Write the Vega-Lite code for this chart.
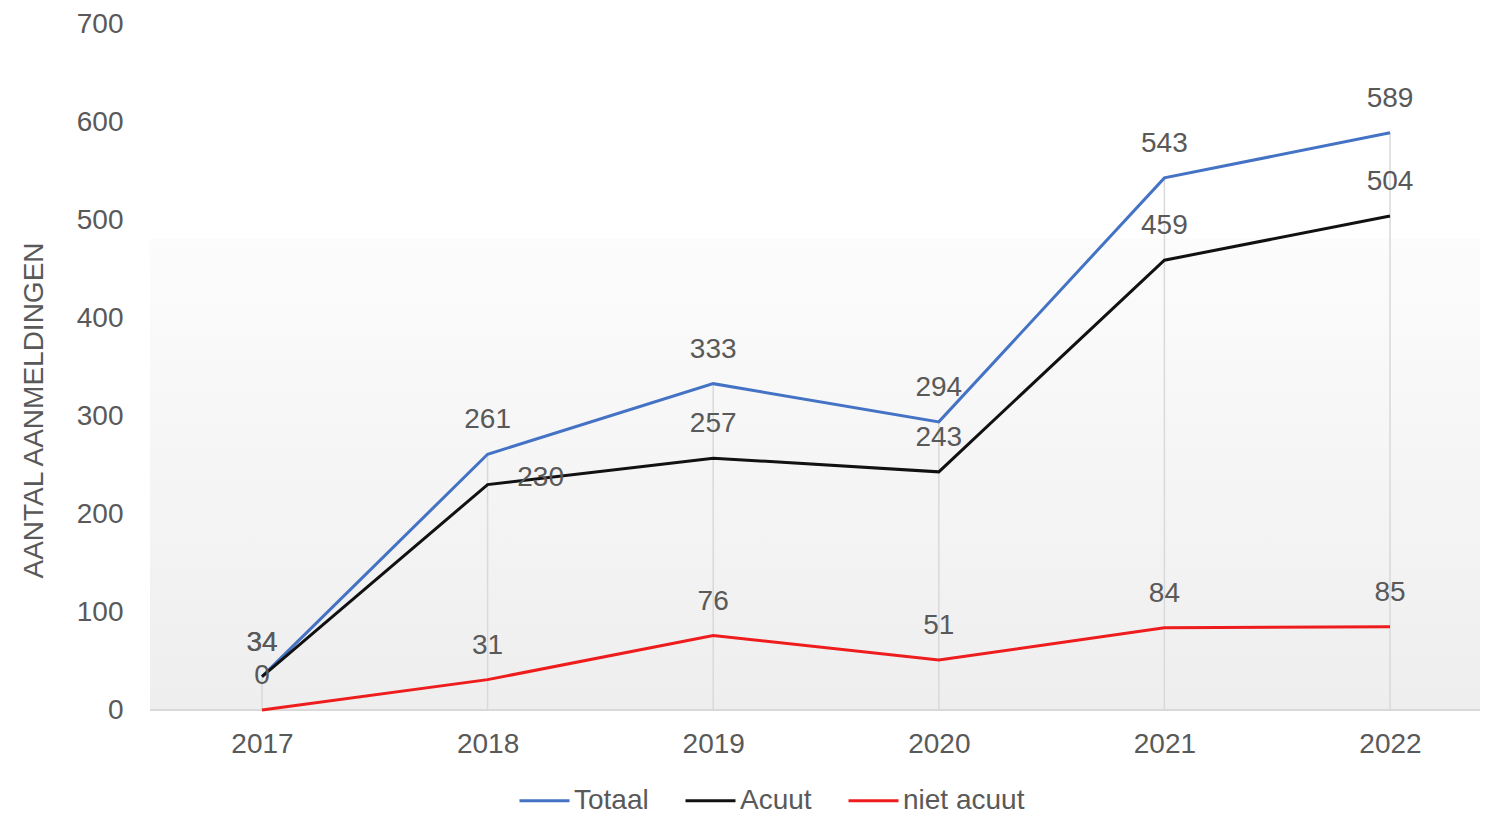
{
  "$schema": "https://vega.github.io/schema/vega-lite/v6.json",
  "width": 1330,
  "height": 686,
  "autosize": "none",
  "padding": {"left": 150, "top": 24, "right": 16, "bottom": 105},
  "background": "#ffffff",
  "config": {
    "font": "Liberation Sans",
    "view": {
      "stroke": null,
      "fill": {
        "gradient": "linear",
        "x1": 0, "y1": 0, "x2": 0, "y2": 1,
        "stops": [
          {"offset": 0, "color": "#ffffff"},
          {"offset": 0.311, "color": "#ffffff"},
          {"offset": 0.314, "color": "#fcfcfc"},
          {"offset": 1, "color": "#eeeeee"}
        ]
      }
    }
  },
  "data": {
    "values": [
      {"year": "2017", "series": "Totaal", "value": 34},
      {"year": "2018", "series": "Totaal", "value": 261},
      {"year": "2019", "series": "Totaal", "value": 333},
      {"year": "2020", "series": "Totaal", "value": 294},
      {"year": "2021", "series": "Totaal", "value": 543},
      {"year": "2022", "series": "Totaal", "value": 589},
      {"year": "2017", "series": "Acuut", "value": 34},
      {"year": "2018", "series": "Acuut", "value": 230},
      {"year": "2019", "series": "Acuut", "value": 257},
      {"year": "2020", "series": "Acuut", "value": 243},
      {"year": "2021", "series": "Acuut", "value": 459},
      {"year": "2022", "series": "Acuut", "value": 504},
      {"year": "2017", "series": "niet acuut", "value": 0},
      {"year": "2018", "series": "niet acuut", "value": 31},
      {"year": "2019", "series": "niet acuut", "value": 76},
      {"year": "2020", "series": "niet acuut", "value": 51},
      {"year": "2021", "series": "niet acuut", "value": 84},
      {"year": "2022", "series": "niet acuut", "value": 85}
    ]
  },
  "layer": [
    {
      "mark": {"type": "rule", "color": "#d9d9d9", "strokeWidth": 1.5},
      "encoding": {
        "y": {
          "datum": 0,
          "type": "quantitative",
          "scale": {"domain": [0, 700], "nice": false},
          "axis": {
            "title": "AANTAL AANMELDINGEN",
            "titleFontSize": 28,
            "titleFontWeight": "normal",
            "titleColor": "#595959",
            "titlePadding": 28,
            "titleY": 386,
            "values": [0, 100, 200, 300, 400, 500, 600, 700],
            "labelFontSize": 28,
            "labelColor": "#595959",
            "labelPadding": 27,
            "ticks": false,
            "domain": false,
            "grid": false
          }
        }
      }
    },
    {
      "transform": [{"filter": "datum.series === 'Totaal'"}],
      "mark": {"type": "rule", "color": "#d9d9d9", "strokeWidth": 1.5},
      "encoding": {
        "x": {
          "field": "year",
          "type": "ordinal",
          "scale": {"type": "point", "range": [112, 1240], "padding": 0},
          "axis": {
            "title": null,
            "labelAngle": 0,
            "labelFontSize": 28,
            "labelColor": "#595959",
            "labelPadding": 20,
            "ticks": false,
            "grid": false,
            "domain": false
          }
        },
        "y": {"field": "value", "type": "quantitative"},
        "y2": {"datum": 0}
      }
    },
    {
      "mark": {"type": "line", "strokeWidth": 3},
      "encoding": {
        "x": {"field": "year", "type": "ordinal"},
        "y": {"field": "value", "type": "quantitative"},
        "color": {
          "field": "series",
          "type": "nominal",
          "scale": {
            "domain": ["Totaal", "Acuut", "niet acuut"],
            "range": ["#4472c4", "#111111", "#ee1c1c"]
          },
          "legend": {
            "title": null,
            "orient": "none",
            "direction": "horizontal",
            "legendX": 368,
            "legendY": 750,
            "symbolType": "stroke",
            "symbolSize": 2500,
            "symbolStrokeWidth": 3,
            "labelFontSize": 28,
            "labelColor": "#595959",
            "labelOffset": 3,
            "columnPadding": 30,
            "padding": 0
          }
        }
      }
    },
    {
      "transform": [{"filter": "!(datum.series === 'Acuut' && datum.year === '2018')"}],
      "mark": {"type": "text", "fontSize": 28, "color": "#595959", "dy": -34, "baseline": "middle"},
      "encoding": {
        "x": {"field": "year", "type": "ordinal"},
        "y": {"field": "value", "type": "quantitative"},
        "text": {"field": "value", "type": "quantitative"}
      }
    },
    {
      "transform": [{"filter": "datum.series === 'Acuut' && datum.year === '2018'"}],
      "mark": {"type": "text", "fontSize": 28, "color": "#595959", "dx": 53, "dy": -7, "baseline": "middle"},
      "encoding": {
        "x": {"field": "year", "type": "ordinal"},
        "y": {"field": "value", "type": "quantitative"},
        "text": {"field": "value", "type": "quantitative"}
      }
    }
  ]
}
